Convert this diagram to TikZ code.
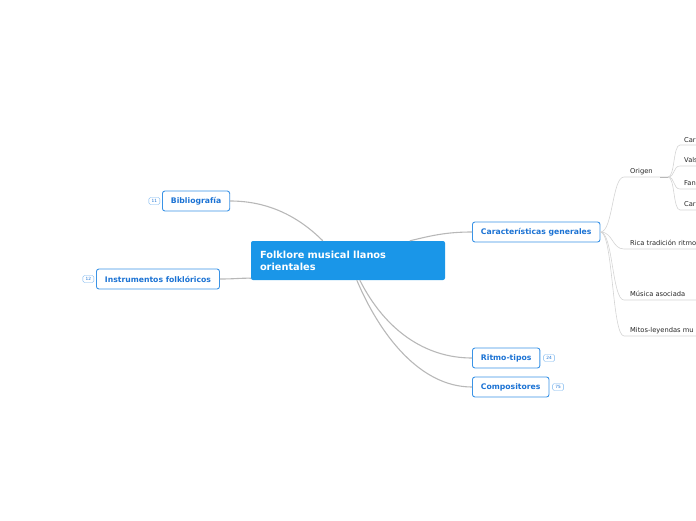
\documentclass[tikz,border=0pt]{standalone}
\usepackage{fontspec}
\setmainfont{DejaVu Sans}
\usetikzlibrary{positioning}
\definecolor{mmblue}{HTML}{1A96E8}
\definecolor{mmtext}{HTML}{1C73D4}
\definecolor{mmborder}{HTML}{3A93E6}
\definecolor{mmline}{HTML}{B8B8B8}
\definecolor{twig}{HTML}{D4D4D4}

\begin{document}
\begin{tikzpicture}[
    x=1pt, y=-1pt,
    root/.style={fill=mmblue, text=white, rounded corners=2pt,
                 font=\fontsize{9.8}{12}\selectfont\bfseries,
                 minimum width=194pt, minimum height=39pt,
                 text width=176pt, align=left, inner xsep=9pt},
    topic/.style={draw=mmborder, line width=0.9pt, fill=white,
                  text=mmtext, rounded corners=2.5pt,
                  font=\fontsize{7.7}{9}\selectfont\bfseries,
                  minimum height=20pt, inner xsep=8.5pt, anchor=west},
    badge/.style={draw=mmborder!70, rounded corners=1.5pt,
                  text=mmtext, font=\fontsize{4.3}{5}\selectfont,
                  minimum width=11pt, minimum height=7pt, inner sep=0.5pt},
    leaf/.style={font=\fontsize{6.7}{8}\selectfont, text=black!85,
                 anchor=base west, inner sep=0pt},
    branch/.style={draw=mmline, line width=1.1pt},
    twigline/.style={draw=twig, line width=0.6pt},
]
\useasboundingbox (0,0) rectangle (696,520);
\clip (0,0) rectangle (696,520);

% --- central topic ---
\node[root] (root) at (348,260.5) {Folklore musical llanos\\orientales};

% --- main topics ---
\node[topic] (carac) at (472,232) {Características generales};
\node[topic] (biblio) at (162,201) {Bibliografía};
\node[topic] (instr) at (96,279) {Instrumentos folklóricos};
\node[topic] (ritmo) at (472,358) {Ritmo-tipos};
\node[topic] (compo) at (472,387) {Compositores};

% --- counters ---
\node[badge, left=2pt of biblio] (nbib) {11};
\node[badge, left=2pt of instr] (ninstr) {12};
\node[badge, right=3pt of ritmo] (nritmo) {24};
\node[badge, right=3pt of compo] (ncompo) {75};

% --- branches from the centre ---
\draw[branch] (biblio.east) .. controls (270,201) and (300,218)
              .. ([xshift=72pt]root.north west);
\draw[branch] ([xshift=159pt]root.north west) .. controls (430,236) and (445,232)
              .. (carac.west);
\draw[branch] ([yshift=2pt]root.south west) .. controls (240,278) and (235,279)
              .. (instr.east);
\draw[branch] ([xshift=109pt]root.south west) .. controls (385,330) and (425,358)
              .. (ritmo.west);
\draw[branch] ([xshift=106pt]root.south west) .. controls (380,335) and (420,387)
              .. (compo.west);

% --- subtopics of Caracteristicas generales ---
\node[leaf] (origen) at (630,173) {Origen};
\node[leaf] (rica) at (630,245) {Rica tradición ritmo};
\node[leaf] (musica) at (630,296) {Música asociada};
\node[leaf] (mitos) at (630,332) {Mitos-leyendas mu};

\coordinate (uorigen) at (624,177);
\coordinate (eorigen) at (668,177);
\draw[twigline] (carac.east) .. controls (613,232) and (612,177) .. (uorigen) -- (eorigen);
\draw[draw=mmline, line width=1pt] (660,177) -- (eorigen);
\draw[twigline] (carac.east) .. controls (613,232) and (612,249) .. (624,249) -- (696,249);
\draw[twigline] (carac.east) .. controls (613,232) and (612,300) .. (624,300) -- (696,300);
\draw[twigline] (carac.east) .. controls (613,232) and (612,336) .. (624,336) -- (696,336);

% --- subtopics of Origen ---
\node[leaf] (cant1) at (684,142) {Car};
\node[leaf] (vals) at (684,162) {Vals};
\node[leaf] (fand) at (684,185) {Fan};
\node[leaf] (cant2) at (684,206) {Car};

\foreach \yy in {145,166,189,210}
  \draw[twigline] (eorigen) .. controls (675,177) and (673,\yy) .. (680,\yy) -- (696,\yy);

\end{tikzpicture}
\end{document}
